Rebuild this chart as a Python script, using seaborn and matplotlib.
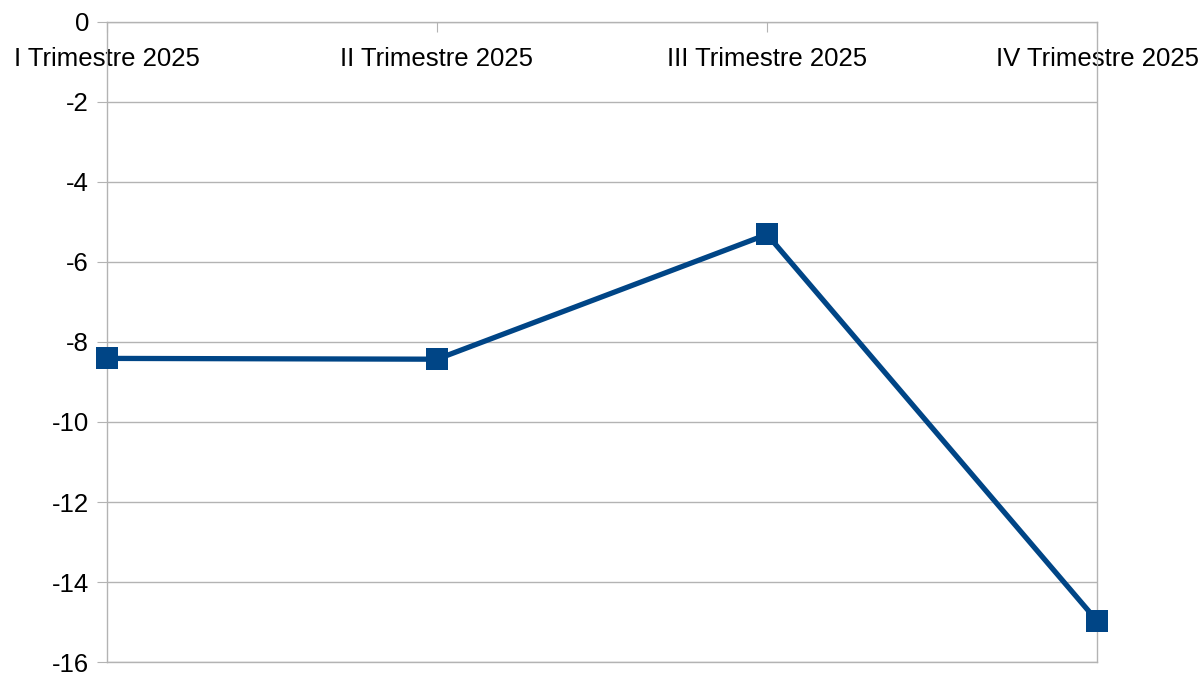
import pandas as pd
import matplotlib
matplotlib.use("Agg")
import matplotlib.pyplot as plt
import seaborn as sns

trimestri = ["I Trimestre 2025", "II Trimestre 2025", "III Trimestre 2025", "IV Trimestre 2025"]
valori = [-8.41, -8.43, -5.31, -14.97]
y_ticks = [0, -2, -4, -6, -8, -10, -12, -14, -16]

data = pd.DataFrame({"Trimestre": trimestri, "Valore": valori})

sns.set_style("white")
plt.rcParams['font.family'] = ['Liberation Sans', 'DejaVu Sans']

fig = plt.figure(figsize=(12.03, 6.75), dpi=100)
ax = fig.add_axes([107/1203, 13/675, 990/1203, 640/675])

grid_col = "#b3b3b3"
sns.lineplot(data=data, x="Trimestre", y="Valore", ax=ax, color="#004586",
             linewidth=3.8, marker="s", markersize=15.5, markeredgewidth=0,
             sort=False, zorder=5, clip_on=False)

ax.set_xlim(0, 3)
ax.set_ylim(-16, 0)
ax.set_yticks(y_ticks)
ax.set_yticklabels([str(v) for v in y_ticks])
ax.yaxis.grid(True, color=grid_col, linewidth=1)
ax.set_axisbelow(True)

ax.xaxis.tick_top()
ax.tick_params(axis="x", direction="in", length=7, color=grid_col,
               labelsize=18.5, labelcolor="black", pad=-35)
ax.tick_params(axis="y", direction="out", length=7, color=grid_col,
               labelsize=18.5, labelcolor="black", pad=6, left=True)
ax.set_xlabel("")
ax.set_ylabel("")

for s in ax.spines.values():
    s.set_color(grid_col)
    s.set_linewidth(1)

fig.savefig("out.png", dpi=100)
